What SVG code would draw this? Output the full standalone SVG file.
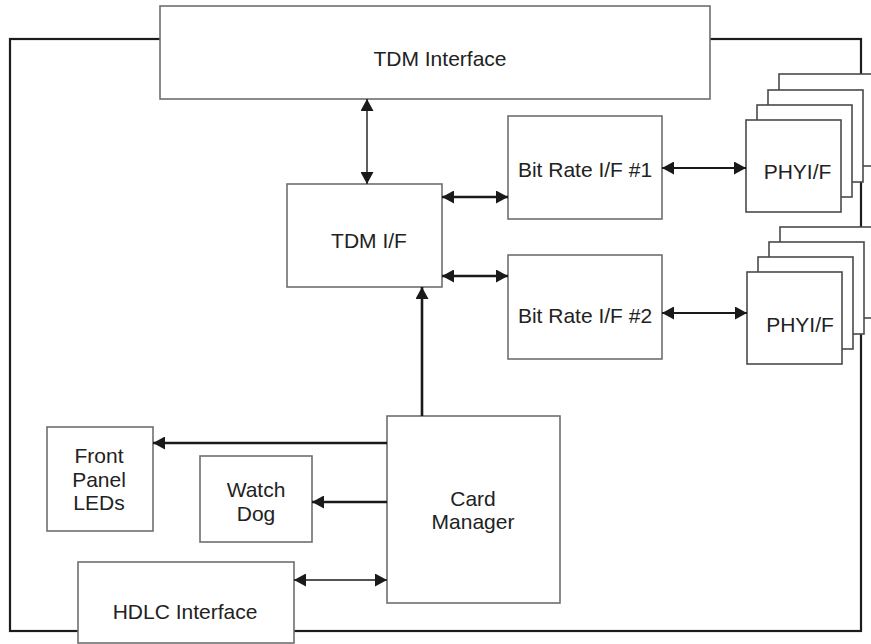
<svg xmlns="http://www.w3.org/2000/svg" width="871" height="644" viewBox="0 0 871 644">
<style>
.box{fill:#fff;stroke:#6f6f6f;stroke-width:1.6}
.phy{fill:#fff;stroke:#4a4a4a;stroke-width:1.6}
.frame{fill:none;stroke:#1c1c1c;stroke-width:2.2}
.lbl{font-family:"Liberation Sans",Arial,sans-serif;font-size:21px;fill:#222;text-anchor:middle}
.c{fill:none;stroke:#1a1a1a}
.thin{stroke-width:1.4}
.mid{stroke-width:2.2}
.thick{stroke-width:2.6}
</style>
<defs>
<marker id="ah" markerUnits="userSpaceOnUse" markerWidth="13" markerHeight="13" refX="12" refY="6.5" orient="auto-start-reverse" viewBox="0 0 13 13">
<path d="M0,0 L12,6.5 L0,13 z" fill="#1a1a1a"/>
</marker>
</defs>
<rect id="frame" class="frame" x="10" y="39" width="851" height="592"/>
<g id="tdm-interface"><rect class="box" x="160" y="6" width="550" height="93"/><text class="lbl" x="440" y="66">TDM Interface</text></g>
<g id="tdm-if"><rect class="box" x="287" y="184" width="155" height="103"/><text class="lbl" x="369" y="248">TDM I/F</text></g>
<g id="bitrate1"><rect class="box" x="508" y="116" width="154" height="103"/><text class="lbl" x="585" y="177">Bit Rate I/F #1</text></g>
<g id="bitrate2"><rect class="box" x="508" y="255" width="154" height="104"/><text class="lbl" x="585" y="323">Bit Rate I/F #2</text></g>
<g id="phy1">
<rect class="phy" x="779" y="74" width="100" height="92"/>
<rect class="phy" x="768" y="90" width="95" height="92"/>
<rect class="phy" x="757" y="105" width="95" height="92"/>
<rect class="phy" x="746" y="120" width="95" height="92"/>
<text class="lbl" x="797.5" y="179">PHYI/F</text>
</g>
<g id="phy2">
<rect class="phy" x="780" y="227" width="100" height="91"/>
<rect class="phy" x="769" y="242" width="95" height="92"/>
<rect class="phy" x="758" y="257" width="95" height="92"/>
<rect class="phy" x="747" y="272" width="95" height="92"/>
<text class="lbl" x="800" y="332">PHYI/F</text>
</g>
<g id="front-panel"><rect class="box" x="47" y="427" width="106" height="104"/><text class="lbl" x="99" y="463">Front</text><text class="lbl" x="99" y="487">Panel</text><text class="lbl" x="99" y="510">LEDs</text></g>
<g id="watchdog"><rect class="box" x="200" y="456" width="112" height="86"/><text class="lbl" x="256" y="497">Watch</text><text class="lbl" x="256" y="521">Dog</text></g>
<g id="card-manager"><rect class="box" x="387" y="416" width="173" height="187"/><text class="lbl" x="473" y="506">Card</text><text class="lbl" x="473" y="529">Manager</text></g>
<g id="hdlc"><rect class="box" x="78" y="562" width="216" height="81"/><text class="lbl" x="185" y="619">HDLC Interface</text></g>
<g id="connectors">
<line class="c thin" x1="367" y1="99" x2="367" y2="184" marker-start="url(#ah)" marker-end="url(#ah)"/>
<line class="c thick" x1="442" y1="197" x2="508" y2="197" marker-start="url(#ah)" marker-end="url(#ah)"/>
<line class="c thick" x1="442" y1="276" x2="508" y2="276" marker-start="url(#ah)" marker-end="url(#ah)"/>
<line class="c mid" x1="662" y1="168" x2="746" y2="168" marker-start="url(#ah)" marker-end="url(#ah)"/>
<line class="c mid" x1="662" y1="313" x2="747" y2="313" marker-start="url(#ah)" marker-end="url(#ah)"/>
<line class="c thick" x1="422" y1="416" x2="422" y2="287" marker-end="url(#ah)"/>
<line class="c thick" x1="387" y1="443" x2="153" y2="443" marker-end="url(#ah)"/>
<line class="c thick" x1="387" y1="502" x2="312" y2="502" marker-end="url(#ah)"/>
<line class="c thin" x1="294" y1="580" x2="387" y2="580" marker-start="url(#ah)" marker-end="url(#ah)"/>
</g>
</svg>
